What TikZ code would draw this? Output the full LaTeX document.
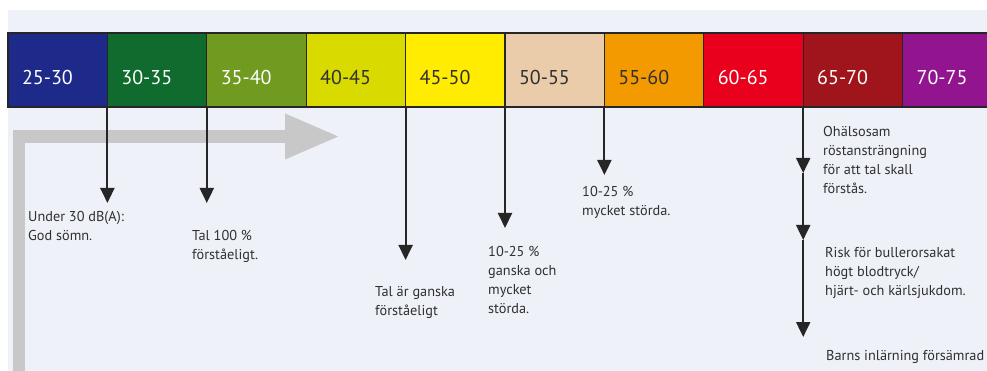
\documentclass[tikz,border=0pt]{standalone}
\usepackage{fontspec}
\setmainfont{PT Sans}
\usetikzlibrary{arrows.meta, positioning}
\definecolor{PanelBg}{RGB}{238,241,248}
\definecolor{InkGray}{RGB}{48,48,48}
\definecolor{AxisGray}{RGB}{200,200,200}
\definecolor{Band25}{RGB}{30,42,138}
\definecolor{Band30}{RGB}{16,108,46}
\definecolor{Band35}{RGB}{112,154,32}
\definecolor{Band40}{RGB}{216,218,0}
\definecolor{Band45}{RGB}{255,236,0}
\definecolor{Band50}{RGB}{235,204,170}
\definecolor{Band55}{RGB}{243,154,0}
\definecolor{Band60}{RGB}{232,0,28}
\definecolor{Band65}{RGB}{160,20,28}
\definecolor{Band70}{RGB}{147,20,143}

\begin{document}
\begin{tikzpicture}[x=1pt, y=-1pt,
  band/.style={draw=black!85, line width=1.2pt, outer sep=0pt,
               minimum height=74pt, text width=71.4pt, inner xsep=14pt,
               inner ysep=0pt, text height=30pt, text depth=0pt,
               align=left, font=\fontsize{20}{22}\selectfont},
  note/.style={anchor=north west, inner sep=0pt, align=left,
               text=InkGray, font=\fontsize{14.3}{19}\selectfont},
  pin/.style={-{Triangle[length=15pt, width=14pt]}, line width=2pt,
              draw=black!85},
  axisarrow/.style={-{Triangle[length=55pt, width=42pt]},
                    line width=12.5pt, draw=AxisGray},
]
\clip (0,0) rectangle (987,371);
\fill[PanelBg] (8,10) rectangle (987,371);

% grey direction arrow
\coordinate (axis0) at (19,371);
\coordinate (axis1) at (340,136.5);
\draw[axisarrow] (axis0) |- (axis1);

% dB(A) bands
\node[band, fill=Band25, text=white, anchor=north west] (b1) at (8,33) {25-30};
\node[band, fill=Band30, text=white, right=0pt of b1] (b2) {30-35};
\node[band, fill=Band35, text=white, right=0pt of b2] (b3) {35-40};
\node[band, fill=Band40, text=InkGray, right=0pt of b3] (b4) {40-45};
\node[band, fill=Band45, text=InkGray, right=0pt of b4] (b5) {45-50};
\node[band, fill=Band50, text=InkGray, right=0pt of b5] (b6) {50-55};
\node[band, fill=Band55, text=InkGray, right=0pt of b6] (b7) {55-60};
\node[band, fill=Band60, text=white, right=0pt of b7] (b8) {60-65};
\node[band, fill=Band65, text=white, right=0pt of b8] (b9) {65-70};
\node[band, fill=Band70, text=white, right=0pt of b9] (b10) {70-75};

% effects
\node[note] (sleep) at (28,211) {Under 30 dB(A):\\God sömn.};
\node[note] (speech) at (192,230) {Tal 100 \%\\förståeligt.};
\node[note] (speechok) at (375,286) {Tal är ganska\\förståeligt};
\node[note] (annoy) at (488,246) {10-25 \%\\ganska och\\mycket\\störda.};
\node[note] (annoyhi) at (582,186) {10-25 \%\\mycket störda.};
\node[note] (voice) at (823,126) {Ohälsosam\\röstansträngning\\för att tal skall\\förstås.};
\node[note] (heart) at (825,247) {Risk för bullerorsakat\\högt blodtryck/\\hjärt- och kärlsjukdom.};
\node[note] (learn) at (826,350) {Barns inlärning försämrad};

\coordinate (t1) at (b1.south east |- 0,203);
\coordinate (t2) at (b2.south east |- 0,203);
\coordinate (t3) at (b4.south east |- 0,260);
\coordinate (t4) at (b5.south east |- 0,228);
\coordinate (t5) at (b6.south east |- 0,175);
\coordinate (t6) at (b8.south east |- 0,173);
\coordinate (t7) at (b8.south east |- 0,240);
\coordinate (t8) at (b8.south east |- 0,337);

\draw[pin] (b1.south east) -- (t1);
\draw[pin] (b2.south east) -- (t2);
\draw[pin] (b4.south east) -- (t3);
\draw[pin] (b5.south east) -- (t4);
\draw[pin] (b6.south east) -- (t5);
\draw[pin] (b8.south east) -- (t6);
\draw[pin] (t6) -- (t7);
\draw[pin] (t7) -- (t8);
\end{tikzpicture}
\end{document}
